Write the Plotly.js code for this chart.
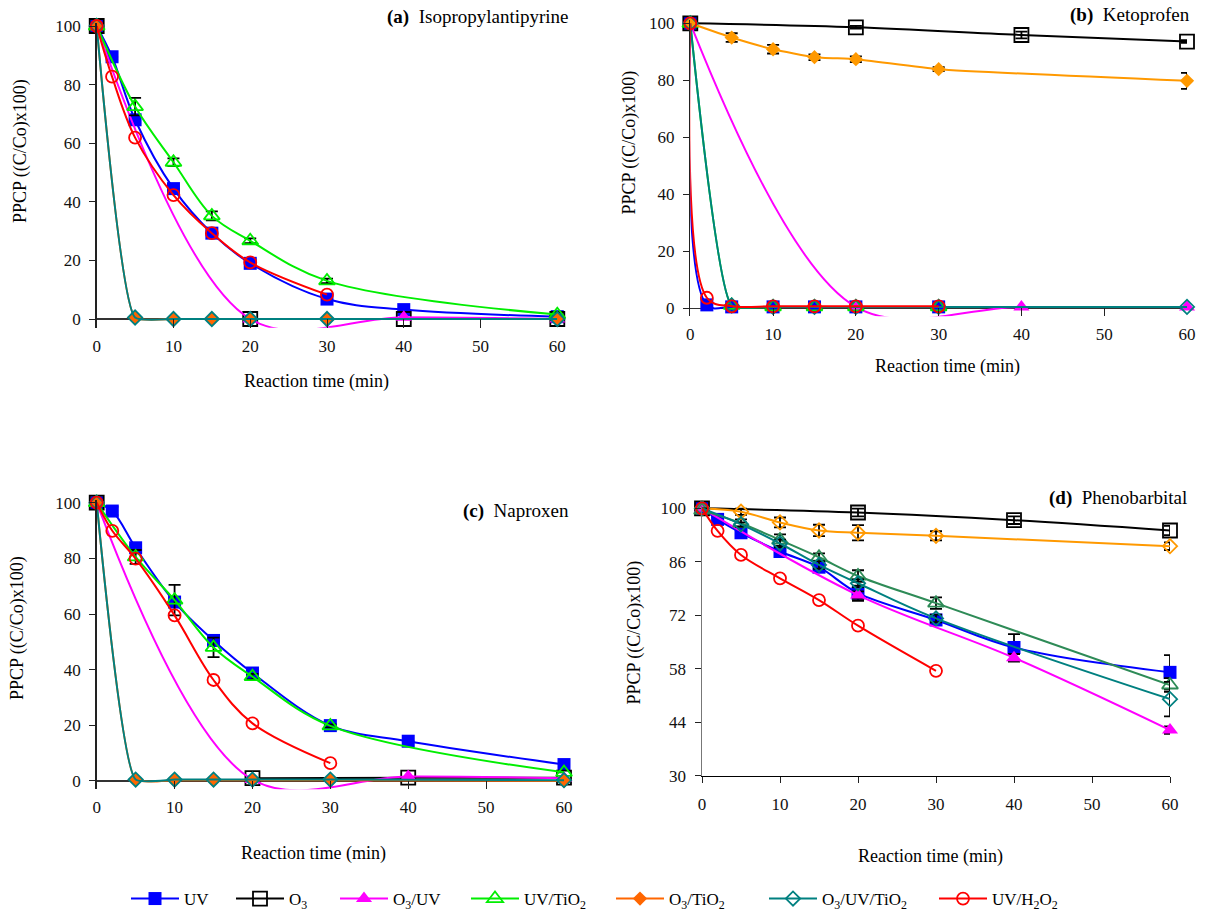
<!DOCTYPE html>
<html>
<head>
<meta charset="utf-8">
<script src="https://cdn.plot.ly/plotly-3.0.1.min.js"></script>
<style>html,body{margin:0;padding:0;background:#fff;} #chart{width:1205px;height:918px;}</style>
</head>
<body>
<div id="chart"></div>
<script>
// ---------- tick labels ----------
const xTicks = [0, 10, 20, 30, 40, 50, 60];
const yTicksABC = [0, 20, 40, 60, 80, 100];
const yTicksD = [30, 44, 58, 72, 86, 100];

// ---------- series names ----------
const seriesNames = ['UV', 'O<sub>3</sub>', 'O<sub>3</sub>/UV', 'UV/TiO<sub>2</sub>', 'O<sub>3</sub>/TiO<sub>2</sub>', 'O<sub>3</sub>/UV/TiO<sub>2</sub>', 'UV/H<sub>2</sub>O<sub>2</sub>'];
const panelTitles = ['Isopropylantipyrine', 'Ketoprofen', 'Naproxen', 'Phenobarbital'];
const panelLetters = ['(a)', '(b)', '(c)', '(d)'];

// ---------- (a) Isopropylantipyrine ----------
const a_uv_t = [0, 2, 5, 10, 15, 20, 30, 40, 60];
const a_uv_y = [100, 89.5, 68, 44.5, 29.3, 19, 6.8, 3.2, 0.8];
const a_uv_e = [0, 0, 1.2, 0, 0, 1.4, 0, 0, 0];
const a_o3_t = [0, 5, 20, 40, 60];
const a_o3_y = [100, null, 0, 0, 0];
const a_o3uv_t = [0, 20, 40, 60];
const a_o3uv_y = [100, 0, 0.6, 0];
const a_uvtio2_t = [0, 5, 10, 15, 20, 30, 60];
const a_uvtio2_y = [100, 72.5, 53.5, 35.2, 26.7, 13, 1.5];
const a_uvtio2_e = [0, 3, 1.3, 1.5, 0.8, 0.8, 0];
const a_o3tio2_t = [0, 5, 10, 15, 20, 30, 60];
const a_o3tio2_y = [100, 0.5, 0, 0, 0, 0, 0];
const a_o3uvtio2_t = [0, 5, 10, 15, 20, 30, 60];
const a_o3uvtio2_y = [100, 0.5, 0, 0, 0, 0, 0];
const a_uvh2o2_t = [0, 2, 5, 10, 15, 20, 30];
const a_uvh2o2_y = [100, 82.7, 61.9, 42.3, 29.3, 19.3, 8.3];

// ---------- (b) Ketoprofen ----------
const b_uv_t = [0, 2, 5, 10, 15, 20, 30];
const b_uv_y = [100, 1.2, 0.5, 0.5, 0.5, 0.5, 0.5];
const b_o3_t = [0, 20, 40, 60];
const b_o3_y = [100, 98.6, 95.9, 93.6];
const b_o3_e = [0, 0.5, 1.2, 0.5];
const b_o3uv_t = [0, 20, 40, 60];
const b_o3uv_y = [100, 0.5, 0.5, 0.5];
const b_uvtio2_t = [0, 5, 10, 15, 20, 30];
const b_uvtio2_y = [100, 1, 0.5, 0.5, 0.5, 0.5];
const b_o3tio2_t = [0, 5, 10, 15, 20, 30, 60];
const b_o3tio2_y = [100, 95, 90.9, 88.1, 87.4, 83.9, 79.8];
const b_o3tio2_e = [0, 1.5, 1.5, 1, 1, 0.7, 2.8];
const b_o3uvtio2_t = [0, 5, 10, 15, 20, 30, 60];
const b_o3uvtio2_y = [100, 1, 0.5, 0.5, 0.5, 0.5, 0.5];
const b_uvh2o2_t = [0, 2, 5, 10, 15, 20, 30];
const b_uvh2o2_y = [100, 3.7, 0.7, 0.7, 0.7, 0.7, 0.7];

// ---------- (c) Naproxen ----------
const c_uv_t = [0, 2, 5, 10, 15, 20, 30, 40, 60];
const c_uv_y = [100, 97, 83.8, 64.3, 50.5, 38.8, 19.9, 14.3, 5.9];
const c_uv_e = [0, 1.5, 1, 1.5, 1.8, 1, 0.5, 0, 0];
const c_o3_t = [0, 5, 20, 40, 60];
const c_o3_y = [100, null, 1, 1.2, 1.2];
const c_o3uv_t = [0, 20, 40, 60];
const c_o3uv_y = [100, 0.5, 1.6, 1];
const c_uvtio2_t = [0, 5, 10, 15, 20, 30, 60];
const c_uvtio2_y = [100, 80.5, 65, 48, 37.5, 19.8, 3.1];
const c_uvtio2_e = [0, 2.5, 5.5, 3.5, 1, 0.5, 0];
const c_o3tio2_t = [0, 5, 10, 15, 20, 30, 60];
const c_o3tio2_y = [100, 0.5, 0.3, 0.3, 0.3, 0.3, 0];
const c_o3uvtio2_t = [0, 5, 10, 15, 20, 30, 60];
const c_o3uvtio2_y = [100, 0.5, 0.5, 0.5, 0.5, 0.5, 0.3];
const c_uvh2o2_t = [0, 2, 5, 10, 15, 20, 30];
const c_uvh2o2_y = [100, 89.9, 79.9, 59.5, 36.3, 20.7, 6.4];

// ---------- (d) Phenobarbital ----------
const d_uv_t = [0, 2, 5, 10, 15, 20, 30, 40, 60];
const d_uv_y = [100, 97.1, 93.6, 88.7, 84.6, 77.8, 70.8, 63.6, 57.1];
const d_uv_e = [0, 0.5, 0.5, 0.8, 1, 2, 1, 3.5, 4.5];
const d_o3_t = [0, 20, 40, 60];
const d_o3_y = [100, 98.9, 96.9, 94.2];
const d_o3_e = [0, 1, 1, 1.2];
const d_o3uv_t = [0, 20, 40, 60];
const d_o3uv_y = [100, 77.3, 60.9, 42];
const d_o3uv_e = [0, 1, 1, 1];
const d_uvtio2_t = [0, 5, 10, 15, 20, 30, 60];
const d_uvtio2_y = [99.5, 96.1, 91.7, 87.2, 82.3, 75.2, 53.8];
const d_uvtio2_e = [0, 1, 1.5, 1, 1.5, 1.5, 1.8];
const d_o3tio2_t = [0, 5, 10, 15, 20, 30, 60];
const d_o3tio2_y = [100, 99.1, 96.3, 94.2, 93.6, 92.8, 90.1];
const d_o3tio2_e = [0, 0.8, 1.3, 1.5, 2, 1.2, 1];
const d_o3uvtio2_t = [0, 5, 10, 15, 20, 30, 60];
const d_o3uvtio2_y = [100, 95.8, 90.8, 85.2, 80.4, 71.2, 50.1];
const d_o3uvtio2_e = [0, 0.5, 1, 1, 1, 1, 4.5];
const d_uvh2o2_t = [0, 2, 5, 10, 15, 20, 30];
const d_uvh2o2_y = [100, 94.1, 87.8, 81.7, 76, 69.3, 57.5];

// ---------- styles ----------
const FONT = 'Liberation Serif, Times New Roman, serif';
const W = 1205, H = 918;
const styles = [
  {color: '#0000ff', symbol: 'square', size: 13},
  {color: '#000000', symbol: 'square-open', size: 14},
  {color: '#ff00ff', symbol: 'triangle-up', size: 14},
  {color: '#00ee00', symbol: 'triangle-up-open', size: 14},
  {color: '#ff6600', symbol: 'diamond', size: 11},
  {color: '#008080', symbol: 'diamond-open', size: 11},
  {color: '#ff0000', symbol: 'circle-open', size: 12}
];

const panelData = [
  [[a_uv_t, a_uv_y, a_uv_e], [a_o3_t, a_o3_y], [a_o3uv_t, a_o3uv_y], [a_uvtio2_t, a_uvtio2_y, a_uvtio2_e], [a_o3tio2_t, a_o3tio2_y], [a_o3uvtio2_t, a_o3uvtio2_y], [a_uvh2o2_t, a_uvh2o2_y]],
  [[b_uv_t, b_uv_y], [b_o3_t, b_o3_y, b_o3_e], [b_o3uv_t, b_o3uv_y], [b_uvtio2_t, b_uvtio2_y], [b_o3tio2_t, b_o3tio2_y, b_o3tio2_e], [b_o3uvtio2_t, b_o3uvtio2_y], [b_uvh2o2_t, b_uvh2o2_y]],
  [[c_uv_t, c_uv_y, c_uv_e], [c_o3_t, c_o3_y], [c_o3uv_t, c_o3uv_y], [c_uvtio2_t, c_uvtio2_y, c_uvtio2_e], [c_o3tio2_t, c_o3tio2_y], [c_o3uvtio2_t, c_o3uvtio2_y], [c_uvh2o2_t, c_uvh2o2_y]],
  [[d_uv_t, d_uv_y, d_uv_e], [d_o3_t, d_o3_y, d_o3_e], [d_o3uv_t, d_o3uv_y, d_o3uv_e], [d_uvtio2_t, d_uvtio2_y, d_uvtio2_e], [d_o3tio2_t, d_o3tio2_y, d_o3tio2_e], [d_o3uvtio2_t, d_o3uvtio2_y, d_o3uvtio2_e], [d_uvh2o2_t, d_uvh2o2_y]]
];

// panel geometry (pixel positions of reference values)
const geom = [
  {x0: 96.7, x60: 557.3, pTop: 26, pBot: 319, vTop: 100, vBot: 0, range: [-3.0, 101], zero: true, title: [21, 151], xt: [316, 381], lab: [571, 16.7]},
  {x0: 690.3, x60: 1187, pTop: 23.3, pBot: 308.3, vTop: 100, vBot: 0, range: [-2.8, 101], zero: true, title: [629, 142.5], xt: [947, 366.7], lab: [1192, 15]},
  {x0: 96.7, x60: 564, pTop: 502.7, pBot: 781, vTop: 100, vBot: 0, range: [-3.0, 101], zero: true, title: [17, 628], xt: [313.5, 853], lab: [570.6, 510.7]},
  {x0: 702, x60: 1170, pTop: 508.3, pBot: 776, vTop: 100, vBot: 30, range: [30, 100.5], zero: false, title: [634, 632.5], xt: [930, 856.7], lab: [1188.6, 498.3]}
];

function ydom(g) {
  const s = (g.pBot - g.pTop) / (g.vTop - g.vBot);
  const top = g.pTop - (g.range[1] - g.vTop) * s;
  const bot = g.pBot + (g.vBot - g.range[0]) * s;
  return {dom: [1 - bot / H, 1 - top / H], bot: bot};
}

// which panel supplies each legend entry
const legendPanel = [1, 1, 1, 1, 0, 1, 1];

const traces = [];
const layout = {
  width: W, height: H,
  margin: {l: 0, r: 0, t: 0, b: 0},
  paper_bgcolor: '#fff', plot_bgcolor: 'rgba(0,0,0,0)',
  font: {family: FONT, size: 17, color: '#000'},
  showlegend: true,
  annotations: []
};

geom.forEach((g, p) => {
  const xa = p === 0 ? 'x' : 'x' + (p + 1);
  const ya = p === 0 ? 'y' : 'y' + (p + 1);
  const xk = p === 0 ? 'xaxis' : 'xaxis' + (p + 1);
  const yk = p === 0 ? 'yaxis' : 'yaxis' + (p + 1);
  const yd = ydom(g);
  const zeroPx = g.pBot;
  layout[xk] = {
    domain: [g.x0 / W, g.x60 / W], range: [0, 60], anchor: ya,
    tickmode: 'array', tickvals: xTicks, ticktext: xTicks.map(String),
    showgrid: false, zeroline: false,
    showline: !g.zero, linecolor: '#000', linewidth: 1.2,
    ticks: g.zero ? 'inside' : 'outside', ticklen: g.zero ? Math.round(yd.bot - zeroPx) : 6,
    tickcolor: '#222', tickwidth: 1,
    tickfont: {family: FONT, size: 17, color: '#111'},
    ticklabelstandoff: 6,
    fixedrange: true
  };
  const yt = g.zero ? yTicksABC : yTicksD;
  layout[yk] = {
    domain: yd.dom, range: g.range, anchor: xa,
    tickmode: 'array', tickvals: yt, ticktext: yt.map(String),
    showgrid: false,
    zeroline: g.zero, zerolinecolor: '#333', zerolinewidth: 1.2,
    showline: true, linecolor: g.zero ? '#222' : '#777', linewidth: 1.5,
    ticks: 'outside', ticklen: 6, tickcolor: '#222', tickwidth: 1,
    tickfont: {family: FONT, size: 17, color: '#111'},
    ticklabelstandoff: 5,
    fixedrange: true
  };
  layout.annotations.push({
    xref: 'paper', yref: 'paper', x: g.title[0] / W, y: 1 - g.title[1] / H,
    text: 'PPCP ((C/Co)x100)', textangle: -90, showarrow: false,
    xanchor: 'center', yanchor: 'middle', font: {family: FONT, size: 18, color: '#000'}
  });
  layout.annotations.push({
    xref: 'paper', yref: 'paper', x: g.xt[0] / W, y: 1 - g.xt[1] / H,
    text: 'Reaction time (min)', showarrow: false,
    xanchor: 'center', yanchor: 'middle', font: {family: FONT, size: 18, color: '#000'}
  });
  layout.annotations.push({
    xref: 'paper', yref: 'paper', x: g.lab[0] / W, y: 1 - g.lab[1] / H,
    text: '<b>' + panelLetters[p] + '</b>  ' + panelTitles[p], showarrow: false,
    xanchor: 'right', yanchor: 'middle', font: {family: FONT, size: 19, color: '#000'}
  });

  panelData[p].forEach((sd, s) => {
    const st = Object.assign({}, styles[s]);
    if (p === 3 && s === 3) st.color = '#2e8b57';
    if (p === 3 && s === 4) { st.color = '#ff9900'; st.symbol = 'diamond-open'; }
    if (p === 1 && s === 4) st.color = '#ff9900';
    const open = st.symbol.indexOf('open') >= 0;
    // fast initial drops follow the straight segment more closely
    const fastDrop = p < 3 && (s === 4 || s === 5 || (p === 1 && s === 3));
    const tr = {
      type: 'scatter', mode: 'lines+markers', x: sd[0], y: sd[1],
      xaxis: xa, yaxis: ya, name: seriesNames[s],
      line: {color: st.color, width: 2, shape: 'spline', smoothing: fastDrop ? 0.45 : 1},
      marker: {symbol: st.symbol, size: st.size, color: st.color,
               line: {color: st.color, width: open ? 1.8 : 0}},
      cliponaxis: false, connectgaps: false,
      showlegend: p === legendPanel[s],
      legend: s === 0 ? 'legend' : 'legend' + (s + 1),
      hoverinfo: 'skip'
    };
    if (sd[2]) {
      tr.error_y = {type: 'data', array: sd[2], visible: true, color: '#000', thickness: 1.8, width: 6};
    }
    traces.push(tr);
  });
});

// one legend per entry, laid out along the bottom
const legendX = [126, 231, 335, 466, 611, 764, 934];
legendX.forEach((px, i) => {
  const key = i === 0 ? 'legend' : 'legend' + (i + 1);
  layout[key] = {
    orientation: 'h', x: px / W, y: 1 - 899 / H, xanchor: 'left', yanchor: 'middle',
    font: {family: FONT, size: 17, color: '#000'}, bgcolor: 'rgba(0,0,0,0)',
    itemwidth: 48, borderwidth: 0, tracegroupgap: 0
  };
});

Plotly.newPlot('chart', traces, layout, {staticPlot: true, displayModeBar: false});
</script>
</body>
</html>
